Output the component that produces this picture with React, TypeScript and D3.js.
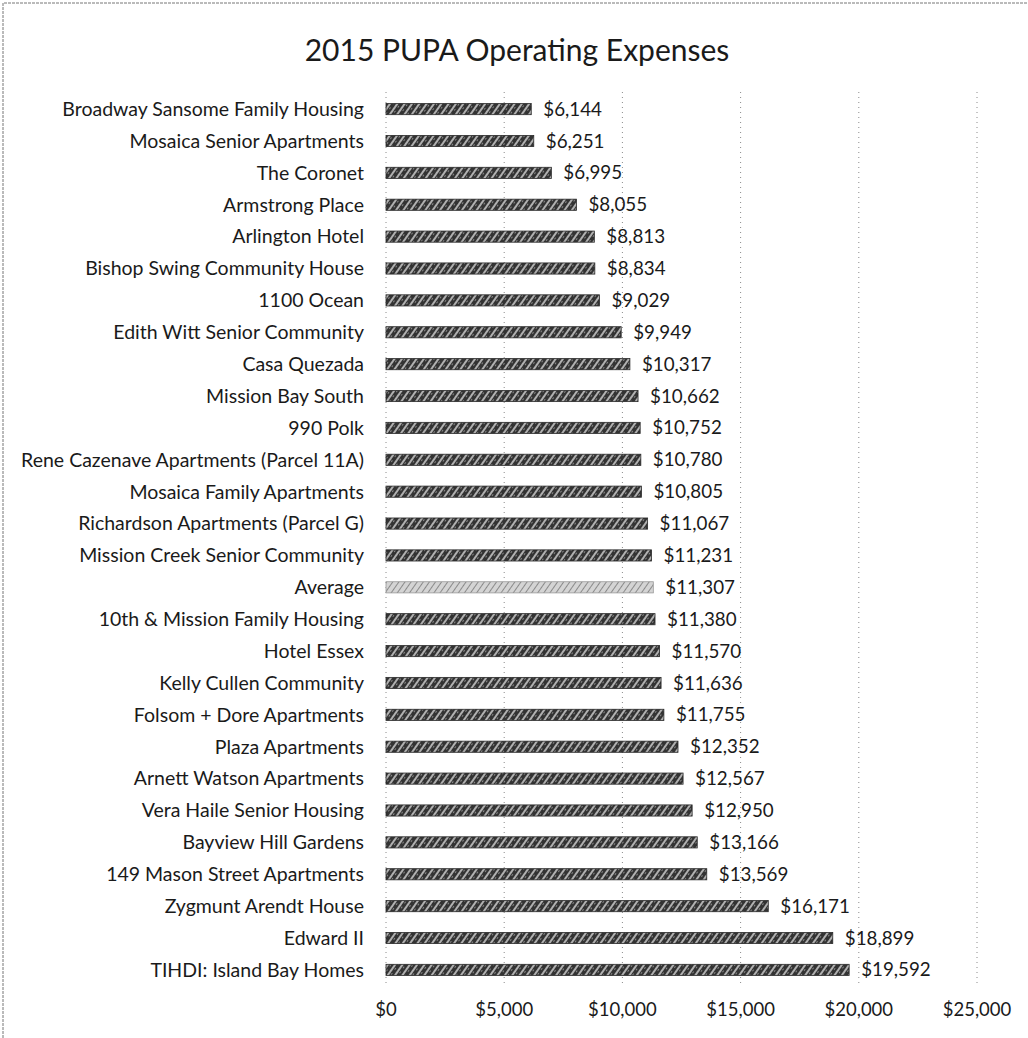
import React, { useEffect, useRef } from "react";
import * as d3 from "d3";

const categories = [
  "Broadway Sansome Family Housing",
  "Mosaica Senior Apartments",
  "The Coronet",
  "Armstrong Place",
  "Arlington Hotel",
  "Bishop Swing Community House",
  "1100 Ocean",
  "Edith Witt Senior Community",
  "Casa Quezada",
  "Mission Bay South",
  "990 Polk",
  "Rene Cazenave Apartments (Parcel 11A)",
  "Mosaica Family Apartments",
  "Richardson Apartments (Parcel G)",
  "Mission Creek Senior Community",
  "Average",
  "10th & Mission Family Housing",
  "Hotel Essex",
  "Kelly Cullen Community",
  "Folsom + Dore Apartments",
  "Plaza Apartments",
  "Arnett Watson Apartments",
  "Vera Haile Senior Housing",
  "Bayview Hill Gardens",
  "149 Mason Street Apartments",
  "Zygmunt Arendt House",
  "Edward II",
  "TIHDI: Island Bay Homes",
];

const values = [
  6144, 6251, 6995, 8055, 8813, 8834, 9029, 9949, 10317, 10662, 10752, 10780,
  10805, 11067, 11231, 11307, 11380, 11570, 11636, 11755, 12352, 12567, 12950,
  13166, 13569, 16171, 18899, 19592,
];

const xTicks = [0, 5000, 10000, 15000, 20000, 25000];

const title = "2015 PUPA Operating Expenses";

const W = 1028;
const H = 1038;
const FONT = "Lato, 'Open Sans', sans-serif";

export default function App() {
  const ref = useRef<SVGSVGElement>(null);

  useEffect(() => {
    const svg = d3.select(ref.current);
    svg.selectAll("*").remove();

    const defs = svg.append("defs");
    const dark = defs
      .append("pattern")
      .attr("id", "darkTex")
      .attr("patternUnits", "userSpaceOnUse")
      .attr("width", 6)
      .attr("height", 6)
      .attr("patternTransform", "rotate(35)");
    dark.append("rect").attr("width", 6).attr("height", 6).attr("fill", "#333");
    dark.append("rect").attr("x", 0).attr("y", 0).attr("width", 2).attr("height", 6).attr("fill", "#b0b0b0");
    dark.append("rect").attr("x", 3).attr("y", 2).attr("width", 1).attr("height", 2).attr("fill", "#888");

    const light = defs
      .append("pattern")
      .attr("id", "lightTex")
      .attr("patternUnits", "userSpaceOnUse")
      .attr("width", 5)
      .attr("height", 5)
      .attr("patternTransform", "rotate(35)");
    light.append("rect").attr("width", 5).attr("height", 5).attr("fill", "#d4d4d4");
    light.append("rect").attr("x", 0).attr("y", 0).attr("width", 1).attr("height", 5).attr("fill", "#8a8a8a");

    // chart border (top + left visible)
    svg
      .append("path")
      .attr("d", `M3,${H} L3,3 L${W},3`)
      .attr("fill", "none")
      .attr("stroke", "#777")
      .attr("stroke-width", 1)
      .attr("stroke-dasharray", "3,1");

    const x = d3.scaleLinear().domain([0, 25000]).range([386, 977]);
    const y = d3
      .scaleBand<string>()
      .domain(categories)
      .range([93, 986])
      .paddingInner(0.65)
      .paddingOuter(0.33);

    // gridlines
    svg
      .append("g")
      .selectAll("line")
      .data(xTicks)
      .join("line")
      .attr("x1", (d) => x(d))
      .attr("x2", (d) => x(d))
      .attr("y1", 92)
      .attr("y2", 987)
      .attr("stroke", "#8a8a8a")
      .attr("stroke-width", 1)
      .attr("stroke-dasharray", "1,4");

    // title
    svg
      .append("text")
      .attr("x", 517)
      .attr("y", 61)
      .attr("text-anchor", "middle")
      .attr("font-family", FONT)
      .attr("font-size", 30)
      .attr("fill", "#1a1a1a")
      .text(title);

    const rows = categories.map((c, i) => ({ c, v: values[i] }));

    // bars
    svg
      .append("g")
      .selectAll("rect")
      .data(rows)
      .join("rect")
      .attr("x", x(0))
      .attr("y", (d) => y(d.c)!)
      .attr("width", (d) => x(d.v) - x(0))
      .attr("height", y.bandwidth())
      .attr("fill", (d) => (d.c === "Average" ? "url(#lightTex)" : "url(#darkTex)"))
      .attr("stroke", (d) => (d.c === "Average" ? "#999" : "#2a2a2a"))
      .attr("stroke-width", 0.8);

    // category labels
    svg
      .append("g")
      .selectAll("text")
      .data(rows)
      .join("text")
      .attr("x", 364)
      .attr("y", (d) => y(d.c)! + y.bandwidth() / 2)
      .attr("dy", "0.35em")
      .attr("text-anchor", "end")
      .attr("font-family", FONT)
      .attr("font-size", 19.5)
      .attr("fill", "#1a1a1a")
      .text((d) => d.c);

    // value labels
    const fmt = d3.format("$,.0f");
    svg
      .append("g")
      .selectAll("text")
      .data(rows)
      .join("text")
      .attr("x", (d) => x(d.v) + 12)
      .attr("y", (d) => y(d.c)! + y.bandwidth() / 2)
      .attr("dy", "0.35em")
      .attr("font-family", FONT)
      .attr("font-size", 18.8)
      .attr("fill", "#1a1a1a")
      .text((d) => fmt(d.v));

    // x tick labels
    svg
      .append("g")
      .selectAll("text")
      .data(xTicks)
      .join("text")
      .attr("x", (d) => x(d))
      .attr("y", 1016)
      .attr("text-anchor", "middle")
      .attr("font-family", FONT)
      .attr("font-size", 18.5)
      .attr("fill", "#1a1a1a")
      .text((d) => fmt(d));
  }, []);

  return (
    <svg
      ref={ref}
      width={W}
      height={H}
      style={{ position: "absolute", left: 0, top: 0, background: "#fff" }}
    />
  );
}
